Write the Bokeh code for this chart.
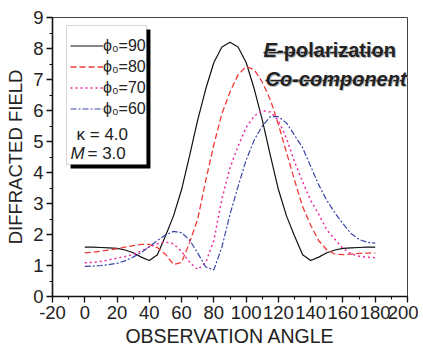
from bokeh.plotting import figure
from bokeh.models import (Range1d, SingleIntervalTicker, Legend, LegendItem,
                          BoxAnnotation, Label)
from bokeh.embed import file_html
from bokeh.resources import INLINE

# ---------------- data ----------------
angles = [0, 5, 10, 15, 20, 25, 30, 35, 40, 45, 50, 55, 60, 65, 70, 75, 80, 85, 90,
          95, 100, 105, 110, 115, 120, 125, 130, 135, 140, 145, 150, 155, 160, 165,
          170, 175, 180]

phi90 = [1.59, 1.59, 1.58, 1.57, 1.55, 1.50, 1.41, 1.27, 1.16, 1.35, 1.95, 2.60, 3.45,
         4.55, 5.70, 6.70, 7.55, 8.05, 8.20, 8.05, 7.55, 6.70, 5.70, 4.55, 3.45, 2.60,
         1.95, 1.35, 1.16, 1.27, 1.41, 1.50, 1.55, 1.57, 1.58, 1.59, 1.59]

phi80 = [1.41, 1.43, 1.46, 1.50, 1.54, 1.59, 1.64, 1.68, 1.68, 1.58, 1.36, 1.03, 1.10,
         1.75, 2.50, 3.75, 4.90, 5.90, 6.60, 7.15, 7.42, 7.32, 6.92, 6.35, 5.55, 4.65,
         3.75, 2.90, 2.30, 1.80, 1.50, 1.37, 1.35, 1.37, 1.39, 1.40, 1.41]

phi70 = [1.09, 1.10, 1.13, 1.18, 1.24, 1.29, 1.35, 1.47, 1.60, 1.70, 1.76, 1.70, 1.45,
         1.10, 0.87, 1.10, 1.81, 3.15, 4.15, 4.85, 5.45, 5.82, 6.00, 5.95, 5.68, 5.10,
         4.35, 3.70, 3.10, 2.65, 2.15, 1.85, 1.55, 1.38, 1.30, 1.27, 1.25]

phi60 = [0.97, 0.98, 1.00, 1.03, 1.07, 1.15, 1.27, 1.42, 1.60, 1.81, 1.98, 2.10, 2.06,
         1.82, 1.40, 0.95, 0.86, 1.60, 2.65, 3.55, 4.40, 5.05, 5.50, 5.80, 5.80, 5.60,
         5.20, 4.80, 4.20, 3.60, 3.10, 2.70, 2.35, 2.03, 1.84, 1.75, 1.72]

series_labels = ["\u03d5\u2080=90", "\u03d5\u2080=80", "\u03d5\u2080=70", "\u03d5\u2080=60"]
x_ticks_interval = 20
y_ticks_interval = 1

# ---------------- figure ----------------
p = figure(width=418, height=353, output_backend="svg", toolbar_location=None,
           x_range=Range1d(-20, 200), y_range=Range1d(0, 9),
           min_border_left=52, min_border_right=11, min_border_top=17,
           min_border_bottom=57)
p.xgrid.visible = False
p.ygrid.visible = False
p.outline_line_color = "#444444"
p.outline_line_width = 1
p.background_fill_color = "white"
p.border_fill_color = "white"

p.xaxis.ticker = SingleIntervalTicker(interval=x_ticks_interval, num_minor_ticks=2)
p.yaxis.ticker = SingleIntervalTicker(interval=y_ticks_interval, num_minor_ticks=2)
p.xaxis.major_label_overrides = {-20: "-20"}

for ax in (p.xaxis, p.yaxis):
    ax.axis_line_color = "#111111"
    ax.axis_line_width = 1.6
    ax.major_tick_line_color = "#111111"
    ax.minor_tick_line_color = "#111111"
    ax.major_tick_line_width = 1.3
    ax.minor_tick_line_width = 1.1
    ax.major_tick_in = 0
    ax.minor_tick_in = 0
    ax.major_tick_out = 6
    ax.minor_tick_out = 3
    ax.major_label_text_font = "Liberation Sans"
    ax.major_label_text_font_size = "18.5px"
    ax.major_label_text_color = "#222222"
    ax.axis_label_text_font = "Liberation Sans"
    ax.axis_label_text_font_style = "normal"
    ax.axis_label_text_color = "#222222"

p.xaxis.axis_label_text_font_size = "19.5px"
p.yaxis.axis_label_text_font_size = "18.5px"
p.xaxis.major_label_standoff = 3
p.yaxis.major_label_standoff = 3
p.xaxis.axis_label = "OBSERVATION ANGLE"
p.yaxis.axis_label = "DIFFRACTED FIELD"
p.xaxis.axis_label_standoff = 3
p.yaxis.axis_label_standoff = 4

# ---------------- legend frame (shadow + white box) ----------------
shadow = BoxAnnotation(left=-8.8, right=40.7, top=8.61, bottom=4.13,
                       fill_color="black", fill_alpha=1.0, line_alpha=0)
box = BoxAnnotation(left=-11.3, right=38.2, top=8.74, bottom=4.26,
                    fill_color="white", fill_alpha=1.0,
                    line_color="#777777", line_width=1)
p.add_layout(shadow)
p.add_layout(box)

# ---------------- curves ----------------
r1 = p.line(angles, phi90, line_color="#111111", line_width=1.2)
r2 = p.line(angles, phi80, line_color="#f03a3a", line_width=1.3, line_dash="6 3")
r3 = p.line(angles, phi70, line_color="#ee2a9e", line_width=1.5, line_dash="2 3")
r4 = p.line(angles, phi60, line_color="#3a46a8", line_width=1.2, line_dash="6 2 2 2")

legend = Legend(items=[LegendItem(label=series_labels[0], renderers=[r1]),
                       LegendItem(label=series_labels[1], renderers=[r2]),
                       LegendItem(label=series_labels[2], renderers=[r3]),
                       LegendItem(label=series_labels[3], renderers=[r4])],
                location="top_left", margin=14, padding=4, spacing=0,
                glyph_width=33, glyph_height=21, label_height=21,
                label_standoff=0, border_line_alpha=0, background_fill_alpha=0,
                label_text_font="Liberation Sans", label_text_font_size="16px",
                label_text_color="#222222")
p.add_layout(legend)

# parameter texts inside the legend box
p.add_layout(Label(x=-5.1, y=5.23, text="\u03ba = 4.0", text_font="Liberation Sans",
                   text_font_size="17px", text_color="#222222",
                   text_baseline="alphabetic"))
p.add_layout(Label(x=-8.85, y=4.61, text="M", text_font="Liberation Sans",
                   text_font_size="17px", text_font_style="italic",
                   text_color="#222222", text_baseline="alphabetic"))
p.add_layout(Label(x=1.7, y=4.61, text="= 3.0", text_font="Liberation Sans",
                   text_font_size="17px", text_color="#222222",
                   text_baseline="alphabetic"))

# ---------------- annotation titles ----------------
for dx, dy, col in ((0.6, -0.035, "#bbbbbb"), (0, 0, "#222222")):
    p.add_layout(Label(x=110.8 + dx, y=7.94 + dy, text="E", text_font="Liberation Sans",
                       text_font_size="20px", text_font_style="bold italic",
                       text_color=col, text_baseline="alphabetic"))
    p.add_layout(Label(x=119.2 + dx, y=7.94 + dy, text="-polarization",
                       text_font="Liberation Sans", text_font_size="20px",
                       text_font_style="bold", text_color=col,
                       text_baseline="alphabetic"))
    p.add_layout(Label(x=112.0 + dx, y=7.03 + dy, text="Co-component",
                       text_font="Liberation Sans", text_font_size="20px",
                       text_font_style="bold italic", text_color=col,
                       text_baseline="alphabetic"))
    p.segment(x0=[110.8 + dx, 112.0 + dx], y0=[7.87 + dy, 6.97 + dy],
              x1=[190.7 + dx, 197.5 + dx], y1=[7.87 + dy, 6.97 + dy],
              line_color=col, line_width=1.6)

open("out.html", "w").write(file_html(p, INLINE))
